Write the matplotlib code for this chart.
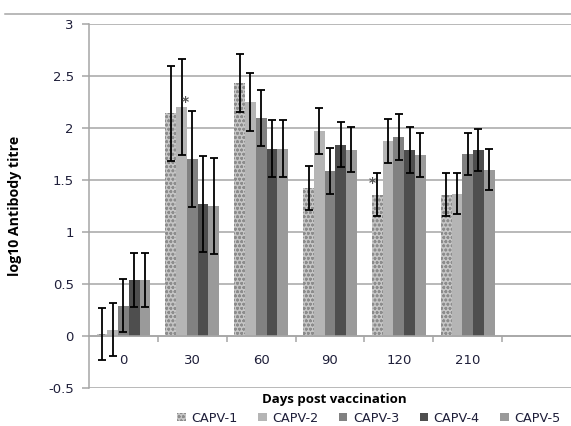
import numpy as np
import matplotlib
matplotlib.use("Agg")
import matplotlib.pyplot as plt
from matplotlib.lines import Line2D

days = ['0', '30', '60', '90', '120', '210']
series = ['CAPV-1', 'CAPV-2', 'CAPV-3', 'CAPV-4', 'CAPV-5']

capv1 = [0.02, 2.14, 2.43, 1.42, 1.36, 1.36]
capv2 = [0.06, 2.20, 2.25, 1.97, 1.875, 1.37]
capv3 = [0.29, 1.70, 2.10, 1.59, 1.91, 1.75]
capv4 = [0.54, 1.27, 1.80, 1.84, 1.79, 1.79]
capv5 = [0.54, 1.25, 1.80, 1.79, 1.74, 1.60]

err1 = [0.25, 0.46, 0.28, 0.21, 0.21, 0.21]
err2 = [0.255, 0.46, 0.275, 0.22, 0.215, 0.20]
err3 = [0.255, 0.46, 0.27, 0.22, 0.22, 0.20]
err4 = [0.26, 0.46, 0.275, 0.215, 0.22, 0.205]
err5 = [0.26, 0.46, 0.275, 0.215, 0.21, 0.20]

# significance marks: (day index, series index)
stars = [(1, 1), (4, 0)]

values = [capv1, capv2, capv3, capv4, capv5]
errors = [err1, err2, err3, err4, err5]
colors = ['#c6c6c6', '#b5b5b5', '#818181', '#4e4e4e', '#9a9a9a']

plt.rcParams['hatch.linewidth'] = 0.8
fig = plt.figure(figsize=(5.71, 4.26), dpi=100)
ax = fig.add_axes([89 / 571, 1 - 388 / 426, 1 - 89 / 571, (388 - 24) / 426])

n_cat = 7  # excel leaves an empty slot at the right
x = np.arange(len(days))
w = 0.156
grid_c = '#a6a6a6'

for i, (vals, errs) in enumerate(zip(values, errors)):
    pos = x + (i - 2) * w
    kw = dict(width=w, color=colors[i], linewidth=0, zorder=2)
    if i == 0:
        kw.update(hatch='oooo', edgecolor='#8c8c8c')
    ax.bar(pos, vals, **kw)
    ax.errorbar(pos, vals, yerr=errs, fmt='none', ecolor='black',
                elinewidth=1.3, capsize=2.8, capthick=1.3, zorder=3)

for d, s in stars:
    ax.text(d + (s - 2) * w + (0.06 if s == 1 else -0.07),
            values[s][d] + (0.05 if s == 1 else 0.11), '*',
            ha='center', va='center', fontsize=10, fontweight='bold',
            color='#555555', zorder=4)

ax.set_xlim(-0.5, n_cat - 0.5)
ax.set_ylim(-0.5, 3)
ax.set_yticks(np.arange(-0.5, 3.01, 0.5))
ax.set_yticklabels(['-0.5', '0', '0.5', '1', '1.5', '2', '2.5', '3'])
ax.yaxis.grid(True, color=grid_c, linewidth=1.1, zorder=0)
ax.set_axisbelow(True)

ax.spines['top'].set_visible(False)
ax.spines['right'].set_visible(False)
ax.spines['left'].set_color(grid_c)
ax.spines['left'].set_linewidth(1.1)
ax.spines['bottom'].set_position(('data', 0))
ax.spines['bottom'].set_color(grid_c)
ax.spines['bottom'].set_linewidth(1.1)

ax.set_xticks(np.arange(0.5, len(days)), labels=[])
ax.set_xticks(x, labels=days, minor=True)
ax.tick_params(axis='x', which='major', direction='out', length=4,
               color=grid_c, width=1.1)
ax.tick_params(axis='x', which='minor', length=0, pad=13,
               labelsize=9.5, labelcolor='#1f1f3a')
ax.tick_params(axis='y', direction='out', length=5, color=grid_c,
               width=1.1, labelsize=9.5, labelcolor='#1f1f3a', pad=6)

fig.text(15 / 571, 1 - 206 / 426, 'log10 Antibody titre', rotation=90,
         ha='center', va='center', fontsize=10.2, fontweight='bold',
         family='Open Sans')
fig.text(334 / 571, 1 - 400 / 426, 'Days post vaccination', ha='center',
         va='center', fontsize=9.5, fontweight='bold', family='Open Sans')

# chart border at the top
fig.add_artist(Line2D([5 / 571, 1], [1 - 14 / 426, 1 - 14 / 426],
                      color=grid_c, linewidth=1.1))

handles = []
for i in range(len(series)):
    h = plt.Rectangle((0, 0), 1, 1, facecolor=colors[i], linewidth=0)
    if i == 0:
        h.set_hatch('oooo')
        h.set_edgecolor('#8c8c8c')
    handles.append(h)
fig.legend(handles, series, loc='center', ncol=5,
           bbox_to_anchor=(369 / 571, 1 - 418 / 426), frameon=False,
           fontsize=9.2, handlelength=0.65, handleheight=0.65,
           handletextpad=0.45, columnspacing=1.6, borderpad=0,
           labelcolor='#1f1f3a')

fig.savefig('out.png', dpi=100)
